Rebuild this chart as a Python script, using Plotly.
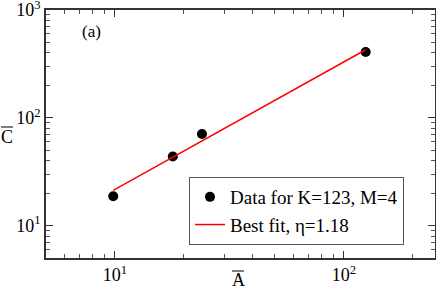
import plotly.graph_objects as go

# Data
a_data = [9.83, 17.9, 24.0, 124.5]
c_data = [18.7, 43.8, 70.6, 408.0]
fit_a = [9.83, 124.5]
fit_c = [21.2, 428.0]

x_tickvals = [10, 100]
x_ticktext = ["10<sup>1</sup>", "10<sup>2</sup>"]
y_tickvals = [10, 100, 1000]
y_ticktext = ["10<sup>1</sup>", "10<sup>2</sup>", "10<sup>3</sup>"]

FONT = "Liberation Serif, Times New Roman, serif"
W, H = 436, 300
ML, MR, MT, MB = 46, 1, 10, 42
PW, PH = W - ML - MR, H - MT - MB


def px(x):
    return (x - ML) / PW


def py(y):
    return (H - MB - y) / PH


fig = go.Figure()
fig.add_trace(go.Scatter(x=a_data, y=c_data, mode="markers",
                         marker=dict(color="black", size=10),
                         name="Data for K=123, M=4"))
fig.add_trace(go.Scatter(x=fit_a, y=fit_c, mode="lines",
                         line=dict(color="#ff0000", width=1.5),
                         name="Best fit, η=1.18"))

axis_common = dict(
    type="log", showgrid=False, zeroline=False, automargin=False,
    showline=True, linecolor="#333333", linewidth=1.5, mirror="ticks",
    ticks="inside", ticklen=7, tickwidth=1, tickcolor="#333333",
    minor=dict(ticks="inside", ticklen=4, dtick="D1", tickcolor="#555555",
               tickwidth=1, showgrid=False),
    tickfont=dict(family=FONT, size=18, color="black"),
    tickangle=0,
)

fig.update_xaxes(range=[0.69897, 2.39794], tickvals=x_tickvals, ticktext=x_ticktext,
                 **axis_common)
fig.update_yaxes(range=[0.69897, 3.0], tickvals=y_tickvals, ticktext=y_ticktext,
                 **axis_common)

ann_common = dict(xref="paper", yref="paper", showarrow=False,
                  xanchor="center", yanchor="middle")
# panel label
fig.add_annotation(x=px(91), y=py(31), text="(a)",
                   font=dict(family=FONT, size=17, color="black"), **ann_common)
# axis titles (with overbar)
fig.add_annotation(x=px(7), y=py(137), text="C",
                   font=dict(family=FONT, size=18, color="black"), **ann_common)
fig.add_annotation(x=px(238), y=py(280), text="A",
                   font=dict(family=FONT, size=18, color="black"), **ann_common)
fig.add_shape(type="line", xref="paper", yref="paper",
              x0=px(1), x1=px(13), y0=py(127), y1=py(127),
              line=dict(color="black", width=1))
fig.add_shape(type="line", xref="paper", yref="paper",
              x0=px(232), x1=px(244), y0=py(271), y1=py(271),
              line=dict(color="black", width=1))

fig.update_layout(
    width=W, height=H,
    margin=dict(l=ML, r=MR, t=MT, b=MB),
    paper_bgcolor="white", plot_bgcolor="white",
    font=dict(family=FONT, size=18, color="black"),
    legend=dict(x=px(189), y=py(177), xanchor="left", yanchor="top",
                bordercolor="#555555", borderwidth=1, bgcolor="white",
                font=dict(family=FONT, size=19, color="black"),
                itemwidth=30, tracegroupgap=0),
    showlegend=True,
)

fig.write_html("out.html", config={"displayModeBar": False},
               post_script="document.body.style.margin='0';document.body.style.overflow='hidden';")
